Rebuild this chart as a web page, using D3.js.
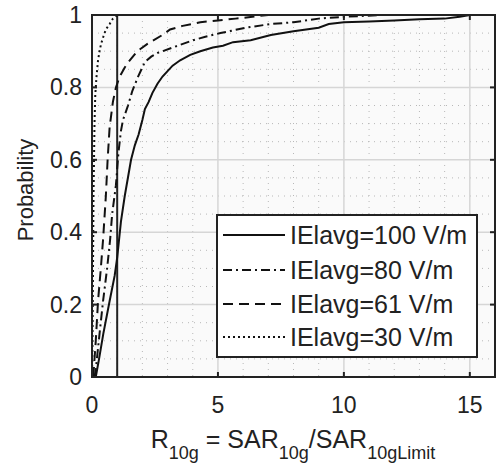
<!DOCTYPE html>
<html><head><meta charset="utf-8">
<script src="https://cdn.jsdelivr.net/npm/d3@7"></script>
<style>body{margin:0;background:#fff;} svg{display:block;font-family:"Liberation Sans",Arial,sans-serif;}</style>
</head><body><svg id="c" width="497" height="467"></svg>
<script>
const xTicks = [0, 5, 10, 15];
const yTicks = [0, 0.2, 0.4, 0.6, 0.8, 1];
const yTickLabels = ["0", "0.2", "0.4", "0.6", "0.8", "1"];
const seriesNames = ["IElavg=100 V/m", "IElavg=80 V/m", "IElavg=61 V/m", "IElavg=30 V/m"];
const limitLine = 1;
const s100x = [0.15,0.28,0.45,0.7,0.9,1.0,1.15,1.3,1.55,1.7,1.85,2.0,2.1,2.25,2.4,2.6,2.8,3.0,3.2,3.5,3.9,4.3,4.8,5.2,5.6,6.3,7.1,8.0,9.0,9.4,10.0,11.0,12.0,13.0,14.0,14.6,15.0,16.0];
const s100y = [0,0.05,0.12,0.21,0.28,0.33,0.43,0.5,0.6,0.64,0.67,0.71,0.74,0.76,0.785,0.81,0.83,0.845,0.86,0.875,0.89,0.9,0.91,0.915,0.925,0.93,0.945,0.955,0.965,0.975,0.98,0.982,0.985,0.988,0.99,0.995,1.0,1.0];
const s80x = [0.1,0.15,0.3,0.44,0.6,0.72,0.8,0.95,1.05,1.15,1.23,1.43,1.6,1.83,2.1,2.35,2.6,3.2,4.0,4.5,5.1,6.1,7.1,8.0,9.0,10.0,11.5,16.0];
const s80y = [0,0.02,0.12,0.21,0.3,0.38,0.45,0.53,0.62,0.68,0.71,0.75,0.79,0.83,0.87,0.885,0.895,0.91,0.93,0.94,0.95,0.965,0.975,0.98,0.99,0.995,1.0,1.0];
const s61x = [0.05,0.15,0.24,0.35,0.44,0.55,0.62,0.7,0.83,0.95,1.1,1.3,1.5,1.8,2.2,2.8,3.1,3.6,4.3,5.0,5.7,7.0,16.0];
const s61y = [0,0.1,0.21,0.3,0.38,0.5,0.6,0.69,0.76,0.8,0.83,0.855,0.875,0.9,0.92,0.945,0.96,0.97,0.98,0.985,0.99,1.0,1.0];
const s30x = [0,0.02,0.03,0.045,0.06,0.08,0.1,0.13,0.18,0.24,0.3,0.36,0.45,0.55,0.7,0.83,1.0,16.0];
const s30y = [0,0.1,0.2,0.35,0.5,0.6,0.7,0.78,0.83,0.875,0.9,0.92,0.94,0.96,0.975,0.99,1.0,1.0];

const svg = d3.select("#c");
const L = 92, R = 495, T = 15, B = 377;
const x = d3.scaleLinear().domain([0, 16]).range([L, R]);
const y = d3.scaleLinear().domain([0, 1]).range([B, T]);

svg.append("rect").attr("x", L).attr("y", T).attr("width", R - L).attr("height", B - T).attr("fill", "#fafafa");

// minor grid
const g = svg.append("g");
g.selectAll("line.mx").data(d3.range(1, 16).filter(v => v % 5 !== 0)).join("line")
  .attr("x1", d => x(d)).attr("x2", d => x(d)).attr("y1", T).attr("y2", B)
  .attr("stroke", "#b8b8b8").attr("stroke-width", 1).attr("stroke-dasharray", "1,5");
g.selectAll("line.my").data(d3.range(1, 20).filter(v => v % 4 !== 0).map(v => v * 0.05)).join("line")
  .attr("x1", L).attr("x2", R).attr("y1", d => y(d)).attr("y2", d => y(d))
  .attr("stroke", "#b8b8b8").attr("stroke-width", 1).attr("stroke-dasharray", "1,5");
// major grid
g.selectAll("line.Mx").data(xTicks.filter(v => v > 0)).join("line")
  .attr("x1", d => x(d)).attr("x2", d => x(d)).attr("y1", T).attr("y2", B)
  .attr("stroke", "#d6d6d6").attr("stroke-width", 1.5);
g.selectAll("line.My").data(yTicks.filter(v => v > 0 && v < 1)).join("line")
  .attr("x1", L).attr("x2", R).attr("y1", d => y(d)).attr("y2", d => y(d))
  .attr("stroke", "#d6d6d6").attr("stroke-width", 1.5);

// limit line
svg.append("line").attr("x1", x(limitLine)).attr("x2", x(limitLine)).attr("y1", y(0)).attr("y2", y(1))
  .attr("stroke", "#222").attr("stroke-width", 2);

const series = [
  {xs: s100x, ys: s100y, dash: null},
  {xs: s80x, ys: s80y, dash: "9,4,2,4"},
  {xs: s61x, ys: s61y, dash: "10,6"},
  {xs: s30x, ys: s30y, dash: "2,3"}
];
const line = d3.line().x(d => x(d[0])).y(d => y(d[1]));
svg.append("clipPath").attr("id", "clp").append("rect").attr("x", L).attr("y", T - 1).attr("width", R - L).attr("height", B - T + 1);
series.forEach(s => {
  svg.append("path").attr("d", line(s.xs.map((v, i) => [v, s.ys[i]])))
    .attr("fill", "none").attr("stroke", "#111").attr("stroke-width", 2)
    .attr("stroke-dasharray", s.dash).attr("clip-path", "url(#clp)");
});

// axes box
svg.append("rect").attr("x", L).attr("y", T).attr("width", R - L).attr("height", B - T)
  .attr("fill", "none").attr("stroke", "#222").attr("stroke-width", 2);
// ticks inward
const tk = svg.append("g").attr("stroke", "#222").attr("stroke-width", 2);
xTicks.forEach(v => {
  tk.append("line").attr("x1", x(v)).attr("x2", x(v)).attr("y1", B).attr("y2", B - 5);
  tk.append("line").attr("x1", x(v)).attr("x2", x(v)).attr("y1", T).attr("y2", T + 5);
});
yTicks.forEach(v => {
  tk.append("line").attr("x1", L).attr("x2", L + 5).attr("y1", y(v)).attr("y2", y(v));
  tk.append("line").attr("x1", R).attr("x2", R - 5).attr("y1", y(v)).attr("y2", y(v));
});

// tick labels
svg.selectAll("text.xt").data(xTicks).join("text")
  .attr("x", d => x(d)).attr("y", 413).attr("text-anchor", "middle")
  .attr("font-size", 23).attr("fill", "#222").text(d => d);
svg.selectAll("text.yt").data(yTicks).join("text")
  .attr("x", 82).attr("y", d => y(d) + 8).attr("text-anchor", "end")
  .attr("font-size", 23).attr("fill", "#222").text((d, i) => yTickLabels[i]);

// y label
svg.append("text").attr("transform", "translate(33,190) rotate(-90)")
  .attr("text-anchor", "middle").attr("font-size", 22).attr("fill", "#222").text("Probability");

// x label
const xl = svg.append("text").attr("x", 293).attr("y", 448).attr("text-anchor", "middle").attr("font-size", 25).attr("fill", "#222");
xl.append("tspan").text("R");
xl.append("tspan").attr("dy", 11).attr("font-size", 18).text("10g");
xl.append("tspan").attr("dy", -11).text(" = SAR");
xl.append("tspan").attr("dy", 11).attr("font-size", 18).text("10g");
xl.append("tspan").attr("dy", -11).text("/SAR");
xl.append("tspan").attr("dy", 11).attr("font-size", 18).text("10gLimit");

// legend
const lg = svg.append("g");
lg.append("rect").attr("x", 217).attr("y", 215).attr("width", 260).attr("height", 142)
  .attr("fill", "#fff").attr("stroke", "#222").attr("stroke-width", 2);
const rowY = [235, 270, 304, 337];
series.forEach((s, i) => {
  lg.append("line").attr("x1", 223).attr("x2", 285).attr("y1", rowY[i]).attr("y2", rowY[i])
    .attr("stroke", "#111").attr("stroke-width", 2).attr("stroke-dasharray", s.dash);
  lg.append("text").attr("x", 290).attr("y", rowY[i] + 9).attr("font-size", 25).attr("fill", "#222").text(seriesNames[i]);
});
</script></body></html>
